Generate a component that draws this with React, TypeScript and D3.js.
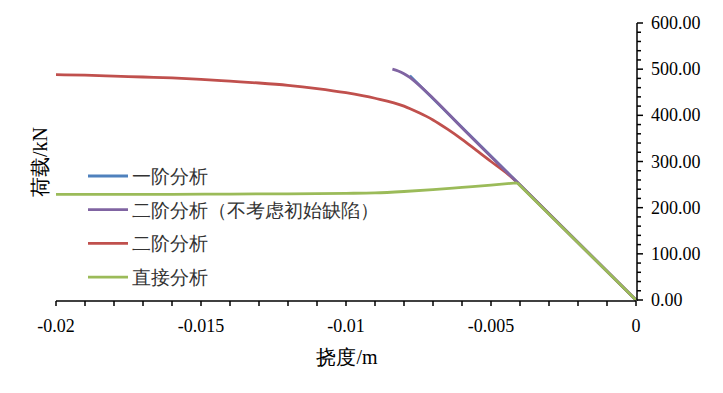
import React from 'react'
import * as d3 from 'd3'

// deflection (m) / load (kN) pairs
const firstOrderX = [0, -0.0078]
const firstOrderY = [0, 486]

const secondNoImpX = [0, -0.0041, -0.006, -0.007, -0.0076, -0.0078, -0.008, -0.0082, -0.0084]
const secondNoImpY = [0, 255, 373, 437, 472, 482, 490, 496, 500]

const secondX = [0, -0.0041, -0.0045, -0.005, -0.0055, -0.006, -0.0065, -0.007, -0.0075, -0.008, -0.009, -0.01, -0.011, -0.012, -0.013, -0.014, -0.015, -0.016, -0.017, -0.018, -0.019, -0.02]
const secondY = [0, 255, 277, 300, 324, 348, 370, 390, 406, 420, 437, 449, 458, 465, 470, 474, 478, 481, 483, 485, 487, 488]

const directX = [0, -0.0041, -0.005, -0.006, -0.007, -0.008, -0.009, -0.01, -0.012, -0.014, -0.016, -0.018, -0.02]
const directY = [0, 254, 249, 244, 239, 235, 232, 231, 230, 229.5, 229, 229, 229]

const seriesNames = ['一阶分析', '二阶分析（不考虑初始缺陷）', '二阶分析', '直接分析']
const seriesColors = ['#4F81BD', '#8064A2', '#C0504D', '#9BBB59']

const xTicks = [-0.02, -0.015, -0.01, -0.005, 0]
const yTicks = [0, 100, 200, 300, 400, 500, 600]

const width = 723
const height = 393
const left = 56
const right = 636
const top = 23
const bottom = 300

const zip = (xs: number[], ys: number[]) => xs.map((x, i) => [x, ys[i]] as [number, number])

export default function App() {
  const x = d3.scaleLinear().domain([-0.02, 0]).range([left, right])
  const y = d3.scaleLinear().domain([0, 600]).range([bottom, top])

  const straight = d3.line<[number, number]>()
    .x(d => x(d[0]))
    .y(d => y(d[1]))
  const smooth = d3.line<[number, number]>()
    .x(d => x(d[0]))
    .y(d => y(d[1]))
    .curve(d3.curveMonotoneX)

  // first segment (origin to the elastic limit) is straight, the rest smoothed
  const pathFor = (pts: [number, number][]) =>
    (straight(pts.slice(0, 2)) || '') + (pts.length > 2 ? (smooth(pts.slice(1)) || '') : '')

  const series = [
    zip(firstOrderX, firstOrderY),
    zip(secondNoImpX, secondNoImpY),
    zip(secondX, secondY),
    zip(directX, directY),
  ]
  const drawOrder = [0, 2, 1, 3]

  const xMinor = d3.range(0, 21).map(i => -0.02 + i * 0.001)
  const yMinor = d3.range(0, 31).map(i => i * 20)

  const font = 'Liberation Serif'

  return (
    <svg width={width} height={height} style={{ position: 'absolute', left: 0, top: 0, background: '#fff' }}>
      {drawOrder.map(i => (
        <path key={i} d={pathFor(series[i])} fill="none" stroke={seriesColors[i]} strokeWidth={2.8} strokeLinejoin="round" />
      ))}

      {/* x axis */}
      <line x1={left} x2={right} y1={bottom + 1} y2={bottom + 1} stroke="#000" strokeWidth={1.5} />
      {xMinor.map((t, i) => (
        <line key={i} x1={x(t)} x2={x(t)} y1={bottom + 1} y2={bottom + 6} stroke="#000" strokeWidth={1.5} />
      ))}
      {xTicks.map(t => (
        <text key={t} x={x(t)} y={332} textAnchor="middle" fontFamily={font} fontSize={18} fill="#000">{String(t)}</text>
      ))}
      <text x={347} y={364} textAnchor="middle" fontFamily={font} fontSize={20} fill="#000">挠度/m</text>

      {/* y axis on right */}
      <line x1={right + 1} x2={right + 1} y1={top} y2={bottom + 1} stroke="#000" strokeWidth={1.5} />
      {yMinor.map((t, i) => (
        <line key={i} x1={right + 1} x2={right + (t % 100 === 0 ? 7 : 5)} y1={y(t)} y2={y(t)} stroke="#000" strokeWidth={1.5} />
      ))}
      {yTicks.map(t => (
        <text key={t} x={651} y={y(t) + 6} fontFamily={font} fontSize={18} fill="#000">{t.toFixed(2)}</text>
      ))}
      <text transform="translate(47,162) rotate(-90)" textAnchor="middle" fontFamily={font} fontSize={20} fill="#000">荷载/kN</text>

      {/* legend */}
      {seriesNames.map((name, i) => (
        <g key={name} transform={`translate(88,${176 + i * 33.7})`}>
          <line x1={0} x2={40} y1={0} y2={0} stroke={seriesColors[i]} strokeWidth={2.8} />
          <text x={44} y={7} fontFamily={font} fontSize={18.5} fill="#333">{name}</text>
        </g>
      ))}
    </svg>
  )
}
